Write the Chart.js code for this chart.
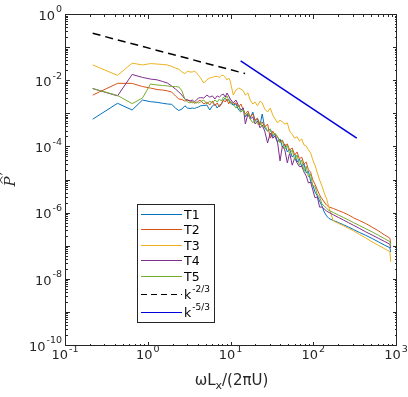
<!DOCTYPE html>
<html>
<head>
<meta charset="utf-8">
<script src="https://cdn.jsdelivr.net/npm/chart.js@4.4.0/dist/chart.umd.min.js"></script>
<style>
  html, body { margin: 0; padding: 0; background: #fff; }
</style>
</head>
<body>
<canvas id="spec" width="408" height="397"></canvas>
<script>
// frequency grid, wLx/(2piU)
const freq = [
  0.21, 0.42, 0.63, 0.84, 1.05, 1.26, 1.47, 1.68, 1.89, 2.1, 2.31, 2.52, 2.73, 2.94, 3.15, 3.36, 3.57, 3.78, 3.99, 4.2,
  4.62, 5.04, 5.46, 5.88, 6.3, 6.72, 7.14, 7.56, 7.98, 8.4, 8.82, 9.24, 9.66,
  10.5, 11.3, 12.2, 13.0, 13.9, 14.7, 15.8, 16.8, 18.1, 19.3, 20.6, 22.1, 23.5, 25.2, 27.3, 29.4, 31.5, 33.6, 36.1, 38.6,
  41.2, 44.1, 47.3, 50.4, 54.2, 58.0, 62.0, 66.2, 70.6, 75.2, 80.0, 85.1, 90.3, 96.0, 102, 109, 116, 124, 132, 141,
  151, 170, 195, 225, 260, 300, 350, 420, 500, 600, 700, 780, 820, 840
];

const t1 = [
  7.1e-4, 2.15e-3, 1.35e-3, 2.7e-3, 2.4e-3, 2.3e-3, 2.15e-3, 2.05e-3, 2.0e-3, 1.55e-3, 1.3e-3, 1.45e-3, 1.8e-3, 1.55e-3, 1.5e-3, 1.55e-3, 1.5e-3, 1.6e-3, 1.66e-3, 1.8e-3,
  1.85e-3, 1.9e-3, 1.35e-3, 1.8e-3, 2.05e-3, 1.55e-3, 1.9e-3, 2.05e-3, 2.7e-3, 3.1e-3, 2.5e-3, 2.9e-3, 2.2e-3,
  1.9e-3, 2.05e-3, 1.35e-3, 1.17e-3, 1.45e-3, 8.3e-4, 1.09e-3, 7.7e-4, 1.17e-3, 6.3e-4, 7.2e-4, 4.75e-4, 1.02e-3, 3.9e-4, 3.1e-4, 3.6e-4, 2.1e-4, 2.5e-4, 1.46e-4, 1.8e-4,
  1.03e-4, 1.27e-4, 7.3e-5, 8.9e-5, 5.1e-5, 6.3e-5, 3.6e-5, 4.5e-5, 2.6e-5, 3.15e-5, 1.7e-5, 1.9e-5, 9.7e-6, 7.3e-6, 4.5e-6, 3.4e-6, 2.4e-6, 1.7e-6, 1.12e-6, 8.5e-7,
  7.1e-7, 6.2e-7, 5.4e-7, 4.6e-7, 3.9e-7, 3.3e-7, 2.7e-7, 2.2e-7, 1.77e-7, 1.39e-7, 1.13e-7, 9.9e-8, 9.3e-8, 6.9e-8
];
const t2 = [
  3.8e-3, 8.6e-3, 8.6e-3, 6.9e-3, 6.2e-3, 5.6e-3, 5.4e-3, 5.1e-3, 4.7e-3, 3.6e-3, 2.9e-3, 2.8e-3, 2.5e-3, 2.7e-3, 2.6e-3, 2.2e-3, 2.35e-3, 2.2e-3, 2.5e-3, 2.7e-3,
  2.05e-3, 2.35e-3, 1.9e-3, 2.5e-3, 1.8e-3, 2.2e-3, 1.66e-3, 2.05e-3, 2.7e-3, 2.35e-3, 2.9e-3, 2.05e-3, 2.5e-3,
  2.05e-3, 2.2e-3, 1.66e-3, 2.05e-3, 1.35e-3, 1.02e-3, 1.26e-3, 8.3e-4, 1.02e-3, 6.7e-4, 7.7e-4, 4.75e-4, 5.9e-4, 4.1e-4, 5.1e-4, 1.9e-4, 3.1e-4, 2.4e-4, 2.1e-4, 1.46e-4,
  1.67e-4, 1.1e-4, 1.27e-4, 8.4e-5, 9.6e-5, 5.9e-5, 7.3e-5, 4.5e-5, 5.1e-5, 3.15e-5, 3.6e-5, 2.1e-5, 1.8e-5, 1.04e-5, 7.8e-6, 5.2e-6, 3.65e-6, 2.8e-6, 2.24e-6, 1.8e-6,
  1.57e-6, 1.43e-6, 1.24e-6, 1.08e-6, 9.1e-7, 7.4e-7, 6.2e-7, 5.0e-7, 3.9e-7, 3.0e-7, 2.3e-7, 1.96e-7, 1.8e-7, 1.25e-7
];
const t3 = [
  3.1e-2, 1.5e-2, 3.5e-2, 3.1e-2, 3.4e-2, 3.3e-2, 3.2e-2, 3.1e-2, 2.8e-2, 2.5e-2, 2.3e-2, 1.9e-2, 1.7e-2, 2.0e-2, 1.9e-2, 1.9e-2, 2.0e-2, 1.8e-2, 1.5e-2, 1.3e-2,
  8.8e-3, 1.1e-2, 1.25e-2, 1.3e-2, 1.4e-2, 1.4e-2, 1.3e-2, 1.5e-2, 1.5e-2, 1.3e-2, 1.1e-2, 1.25e-2, 1.0e-2,
  3.8e-3, 5.4e-3, 6.2e-3, 5.8e-3, 5.1e-3, 3.8e-3, 4.4e-3, 2.7e-3, 2.05e-3, 2.35e-3, 1.8e-3, 2.5e-3, 2.2e-3, 1.45e-3, 1.17e-3, 1.55e-3, 9.5e-4, 7.2e-4, 5.5e-4, 6.7e-4,
  5.9e-4, 5.1e-4, 5.5e-4, 3.1e-4, 2.5e-4, 1.9e-4, 2.1e-4, 1.56e-4, 1.8e-4, 1.18e-4, 1.1e-4, 8.4e-5, 6.8e-5, 4.2e-5, 2.9e-5, 1.7e-5, 1.04e-5, 6.8e-6, 4.2e-6, 2.8e-6,
  1.5e-6, 6.0e-7, 5.1e-7, 4.3e-7, 3.55e-7, 3.0e-7, 2.37e-7, 1.83e-7, 1.4e-7, 1.09e-7, 8.8e-8, 7.6e-8, 7.1e-8, 3.5e-8
];
const t4 = [
  6.0e-3, 3.6e-3, 1.6e-2, 1.3e-2, 1.16e-2, 1.1e-2, 9.8e-3, 8.8e-3, 7.2e-3, 5.8e-3, 4.7e-3, 3.8e-3, 2.9e-3, 2.7e-3, 2.5e-3, 2.7e-3, 2.4e-3, 2.7e-3, 3.1e-3, 3.2e-3,
  3.1e-3, 3.8e-3, 3.3e-3, 3.6e-3, 2.9e-3, 3.6e-3, 3.3e-3, 3.8e-3, 4.1e-3, 3.3e-3, 4.4e-3, 3.6e-3, 2.9e-3,
  2.2e-3, 2.7e-3, 1.8e-3, 1.35e-3, 1.55e-3, 5.1e-4, 1.02e-3, 7.2e-4, 8.3e-4, 5.1e-4, 6.3e-4, 3.9e-4, 4.75e-4, 3.1e-4, 1.36e-4, 2.7e-4, 1.9e-4, 2.2e-4, 1.36e-4, 3.9e-5,
  1.1e-4, 8.4e-5, 3.4e-5, 6.8e-5, 2.9e-5, 4.8e-5, 3.4e-5, 2.6e-5, 2.7e-5, 1.8e-5, 1.37e-5, 8.4e-6, 9.0e-6, 5.2e-6, 3.0e-6, 3.2e-6, 1.57e-6, 1.57e-6, 1.38e-6, 1.19e-6,
  1.08e-6, 9.2e-7, 7.7e-7, 6.4e-7, 5.3e-7, 4.4e-7, 3.6e-7, 2.8e-7, 2.25e-7, 1.78e-7, 1.46e-7, 1.27e-7, 1.18e-7, 9.1e-8
];
const t5 = [
  6.0e-3, 3.7e-3, 2.1e-3, 3.1e-3, 8.2e-3, 7.7e-3, 7.4e-3, 7.2e-3, 6.9e-3, 6.9e-3, 6.7e-3, 5.1e-3, 2.9e-3, 2.35e-3, 2.2e-3, 2.5e-3, 2.1e-3, 2.35e-3, 2.2e-3, 2.35e-3,
  2.7e-3, 2.05e-3, 2.5e-3, 2.2e-3, 2.7e-3, 2.35e-3, 2.9e-3, 2.5e-3, 3.3e-3, 2.9e-3, 3.6e-3, 2.7e-3, 2.35e-3,
  2.05e-3, 1.55e-3, 1.8e-3, 1.17e-3, 1.35e-3, 8.9e-4, 1.09e-3, 7.2e-4, 5.5e-4, 6.7e-4, 5.1e-4, 5.9e-4, 4.1e-4, 4.75e-4, 3.1e-4, 3.6e-4, 2.4e-4, 2.7e-4, 2.1e-4, 1.36e-4,
  1.56e-4, 8.9e-5, 1.18e-4, 6.3e-5, 8.4e-5, 4.2e-5, 5.9e-5, 2.9e-5, 4.2e-5, 1.9e-5, 2.7e-5, 1.28e-5, 1.57e-5, 6.8e-6, 6.8e-6, 3.65e-6, 3.2e-6, 1.95e-6, 1.7e-6, 1.43e-6,
  1.24e-6, 1.08e-6, 9.1e-7, 7.6e-7, 6.4e-7, 5.3e-7, 4.4e-7, 3.5e-7, 2.8e-7, 2.2e-7, 1.77e-7, 1.52e-7, 1.42e-7, 1.05e-7
];

// reference slopes (end points only)
const k23X = [0.21, 14.6];
const k23Y = [0.28, 0.017];
const k53X = [12.9, 326];
const k53Y = [0.041, 1.9e-4];

const names  = ['T1', 'T2', 'T3', 'T4', 'T5'];
const colors = ['#0072BD', '#D95319', '#EDB120', '#7E2F8E', '#77AC30'];
const xTickExp = [-1, 0, 1, 2, 3];
const yTickExp = [0, -2, -4, -6, -8, -10];

const FONT = '"DejaVu Sans", sans-serif';
const INK  = '#262626';

const pts = (xs, ys) => xs.map((x, i) => ({ x, y: ys[i] }));
const series = [t1, t2, t3, t4, t5];

const datasets = series.map((s, i) => ({
  label: names[i],
  data: pts(freq, s),
  borderColor: colors[i],
  borderWidth: 1,
  pointRadius: 0,
  tension: 0,
  order: 6 - i,
}));
datasets.push({
  label: 'k-2/3', data: pts(k23X, k23Y), borderColor: '#000', borderWidth: 1.5,
  borderDash: [8, 5], pointRadius: 0, order: 1,
});
datasets.push({
  label: 'k-5/3', data: pts(k53X, k53Y), borderColor: '#0000dd', borderWidth: 1.5,
  pointRadius: 0, order: 0,
});

// base text + raised exponent
function powText(ctx, base, exp, x, y, align, bs, es) {
  ctx.font = bs + 'px ' + FONT;
  const bw = ctx.measureText(base).width;
  ctx.font = es + 'px ' + FONT;
  const ew = ctx.measureText(exp).width;
  const w = bw + 1 + ew;
  const x0 = align === 'right' ? x - w : align === 'center' ? x - w / 2 : x;
  ctx.textAlign = 'left';
  ctx.textBaseline = 'middle';
  ctx.font = bs + 'px ' + FONT;
  ctx.fillText(base, x0, y);
  ctx.font = es + 'px ' + FONT;
  ctx.fillText(exp, x0 + bw + 1, y - bs * 0.5);
}

const decor = {
  id: 'decor',
  afterDraw(chart) {
    const { ctx, chartArea: ca, scales } = chart;
    const xs = scales.x, ys = scales.y;
    ctx.save();
    ctx.strokeStyle = INK;
    ctx.fillStyle = INK;
    ctx.lineWidth = 1;

    // box
    ctx.strokeRect(ca.left - 0.5, ca.top - 0.5, ca.right - ca.left, ca.bottom - ca.top);

    // ticks on all four sides
    ctx.beginPath();
    for (let d = -1; d <= 3; d++) {
      for (let m = 1; m <= 9; m++) {
        const v = m * Math.pow(10, d);
        if (v > 1000) break;
        const px = Math.round(xs.getPixelForValue(v)) - 0.5;
        const len = m === 1 ? 4 : 2;
        ctx.moveTo(px, ca.bottom); ctx.lineTo(px, ca.bottom - len);
        ctx.moveTo(px, ca.top); ctx.lineTo(px, ca.top + len);
      }
    }
    for (let d = -10; d <= 0; d++) {
      for (let m = 1; m <= 9; m++) {
        const v = m * Math.pow(10, d);
        if (v > 1) break;
        const py = Math.round(ys.getPixelForValue(v)) - 0.5;
        const len = m === 1 ? 4 : 2;
        ctx.moveTo(ca.left, py); ctx.lineTo(ca.left + len, py);
        ctx.moveTo(ca.right, py); ctx.lineTo(ca.right - len, py);
      }
    }
    ctx.stroke();

    // tick labels
    xTickExp.forEach(e => {
      const px = xs.getPixelForValue(Math.pow(10, e));
      powText(ctx, '10', String(e), px - 1, ca.bottom + 10, 'center', 13, 9.5);
    });
    yTickExp.forEach(e => {
      const py = ys.getPixelForValue(Math.pow(10, e));
      powText(ctx, '10', String(e), ca.left - 4, py + 1.5, 'right', 13, 9.5);
    });

    // x title: wL_x/(2piU)
    ctx.textBaseline = 'alphabetic';
    ctx.textAlign = 'left';
    ctx.font = '15px ' + FONT;
    const a = '\u03C9L', b = '/(2\u03C0U)';
    const aw = ctx.measureText(a).width, bw = ctx.measureText(b).width;
    ctx.font = '11px ' + FONT;
    const sw = ctx.measureText('x').width;
    let tx = (ca.left + ca.right) / 2 - (aw + sw + bw) / 2;
    const ty = 385;
    ctx.font = '15px ' + FONT; ctx.fillText(a, tx, ty); tx += aw;
    ctx.font = '11px ' + FONT; ctx.fillText('x', tx, ty + 4); tx += sw;
    ctx.font = '15px ' + FONT; ctx.fillText(b, tx, ty);

    // y title: P hat prime, rotated
    ctx.save();
    ctx.translate(15, (ca.top + ca.bottom) / 2 + 1);
    ctx.rotate(-Math.PI / 2);
    ctx.font = 'italic 15px "DejaVu Serif", serif';
    ctx.textAlign = 'center';
    ctx.fillText('P', 0, 0);
    ctx.beginPath();
    ctx.lineWidth = 0.9;
    ctx.moveTo(-2, -12.5); ctx.lineTo(1.5, -15); ctx.lineTo(5, -12.5);
    ctx.stroke();
    ctx.font = '12px "DejaVu Serif", serif';
    ctx.fillText('\u2032', 7.5, -5);
    ctx.restore();

    // legend
    const lx = 137.5, ly = 204.5, lw = 77, lh = 118;
    ctx.fillStyle = '#fff';
    ctx.fillRect(lx, ly, lw, lh);
    ctx.lineWidth = 1;
    ctx.strokeStyle = INK;
    ctx.strokeRect(lx, ly, lw, lh);
    const rows = [213.5, 229, 244.5, 260, 275.5, 293.5, 311.5];
    const entries = [...names.map((n, i) => ({ c: colors[i], t: n })),
      { c: '#000', t: 'k', e: '-2/3', dash: [6, 4] },
      { c: '#0000dd', t: 'k', e: '-5/3' }];
    entries.forEach((en, i) => {
      const y = Math.round(rows[i]) + 0.5;
      ctx.beginPath();
      ctx.strokeStyle = en.c;
      ctx.lineWidth = 1;
      ctx.setLineDash(en.dash || []);
      ctx.moveTo(141, y); ctx.lineTo(182, y);
      ctx.stroke();
      ctx.setLineDash([]);
      ctx.fillStyle = '#000';
      if (en.e) powText(ctx, en.t, en.e, 184, y + 1, 'left', 12.5, 9);
      else {
        ctx.font = '12.5px ' + FONT; ctx.textAlign = 'left'; ctx.textBaseline = 'middle';
        ctx.fillText(en.t, 184, y + 1);
      }
    });
    ctx.restore();
  }
};

new Chart(document.getElementById('spec'), {
  type: 'line',
  data: { datasets },
  options: {
    responsive: false,
    animation: false,
    layout: { padding: { left: 0, right: 11, top: 15, bottom: 0 } },
    plugins: { legend: { display: false }, tooltip: { enabled: false } },
    scales: {
      x: {
        type: 'logarithmic', min: 0.1, max: 1000,
        ticks: { display: false }, grid: { display: false }, border: { display: false },
        afterFit: s => { s.height = 51; },
      },
      y: {
        type: 'logarithmic', min: 1e-10, max: 1,
        ticks: { display: false }, grid: { display: false }, border: { display: false },
        afterFit: s => { s.width = 66; },
      },
    },
  },
  plugins: [decor],
});
</script>
</body>
</html>
